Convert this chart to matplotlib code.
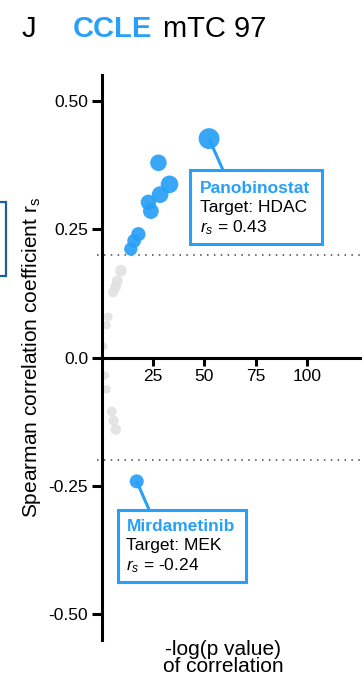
import numpy as np
import matplotlib
matplotlib.use('Agg')
import matplotlib.pyplot as plt
from matplotlib.patches import Rectangle

plt.rcParams['font.family'] = ['Liberation Sans', 'DejaVu Sans']
plt.rcParams['mathtext.fontset'] = 'custom'
plt.rcParams['mathtext.rm'] = 'Liberation Sans'
plt.rcParams['mathtext.it'] = 'Liberation Sans:italic'

# -log(p) and Spearman r_s for drugs passing the |r_s| > 0.2 cut-off
hit_x = [52.3, 27.6, 33.0, 28.4, 22.7, 23.9, 17.8, 15.7, 14.1, 17.0]
hit_y = [0.426, 0.379, 0.337, 0.317, 0.302, 0.285, 0.240, 0.227, 0.211, -0.241]

# drugs below the cut-off
other_x = [9.3, 7.5, 6.7, 5.5, 3.1, 2.3, 1.0, 1.6, 2.3, 4.8, 5.7, 6.7]
other_y = [0.169, 0.149, 0.138, 0.127, 0.079, 0.063, 0.022,
           -0.035, -0.062, -0.105, -0.123, -0.140]

threshold = 0.2
x_ticks = [25, 50, 75, 100]
y_ticks = [-0.50, -0.25, 0.0, 0.25, 0.50]
y_ticklabels = ['-0.50', '-0.25', '0.0', '0.25', '0.50']

# labelled drugs: name, target, index into hit arrays
labelled = [('Panobinostat', 'HDAC', 0), ('Mirdametinib', 'MEK', 9)]

blue = '#28a0f7'
grey = '#e0e0e0'


def marker_size(x):
    d_px = 5 + 2.2 * np.sqrt(np.asarray(x))
    return (d_px * 0.72) ** 2


fig = plt.figure(figsize=(3.64, 6.81), dpi=100)
ax = fig.add_axes([0.280, 0.060, 0.709, 0.830])

ax.scatter(other_x, other_y, s=marker_size(other_x), color=grey, alpha=0.85,
           linewidths=0, zorder=2)
ax.scatter(hit_x, hit_y, s=marker_size(hit_x), color=blue, alpha=0.92,
           linewidths=0, zorder=4)

for yy in (threshold, -threshold):
    ax.axhline(yy, xmin=-0.02, xmax=1, color='#444444', lw=1.1,
               linestyle=(0, (1, 3.5)), clip_on=False, zorder=1)

ax.set_xlim(0, 126)
ax.set_ylim(-0.55, 0.55)
ax.spines['top'].set_visible(False)
ax.spines['right'].set_visible(False)
ax.spines['bottom'].set_position(('data', 0))
ax.spines['left'].set_linewidth(2.2)
ax.spines['bottom'].set_linewidth(2.2)
ax.set_xticks(x_ticks)
ax.set_yticks(y_ticks)
ax.set_yticklabels(y_ticklabels)
ax.tick_params(axis='both', width=2.2, length=7, labelsize=12.5, pad=3,
               direction='out')
ax.tick_params(axis='x', length=6, pad=2)

ax.set_ylabel('Spearman correlation coefficient r$_\\mathregular{s}$',
              fontsize=15, labelpad=4)
fig.text(0.613, 0.008, '-log(p value)\nof correlation', ha='center',
         va='bottom', fontsize=15, linespacing=0.85)

# annotation boxes: (box x0, x1, y0, y1), connector end, text anchor
boxes = [((43.1, 107.4, 0.221, 0.364), (59.2, 0.364), (48.0, 0.329)),
         ((7.7, 70.4, -0.436, -0.296), (23.0, -0.296), (12.0, -0.329))]

for (name, target, i), (box, conn, txt) in zip(labelled, boxes):
    x0, x1, y0, y1 = box
    ax.plot([hit_x[i], conn[0]], [hit_y[i], conn[1]], color=blue, lw=2.2,
            zorder=3, solid_capstyle='butt')
    ax.add_patch(Rectangle((x0, y0), x1 - x0, y1 - y0, fill=True,
                           facecolor='white', edgecolor=blue, lw=2.2,
                           zorder=5))
    dy = 0.037
    ax.text(txt[0], txt[1], name, color=blue, fontweight='bold',
            fontsize=12.5, va='center', ha='left', zorder=6)
    ax.text(txt[0], txt[1] - dy, 'Target: ' + target, color='black',
            fontsize=12.5, va='center', ha='left', zorder=6)
    ax.text(txt[0], txt[1] - 2 * dy - 0.003,
            '$r_s$ = %.2f' % hit_y[i], color='black',
            fontsize=12.5, va='center', ha='left', zorder=6)

# title
fig.text(22 / 364, 1 - 37 / 681, 'J', fontsize=21, va='baseline')
fig.text(73 / 364, 1 - 37 / 681, 'CCLE', fontsize=21, fontweight='bold',
         color=blue, va='baseline')
fig.text(163 / 364, 1 - 37 / 681, 'mTC 97', fontsize=21, va='baseline')

# edge of neighbouring panel's label box
fig.add_artist(Rectangle((-10 / 364, 1 - 276 / 681), 16 / 364, 74 / 681,
                         transform=fig.transFigure, fill=False,
                         edgecolor='#1f5f94', lw=1.6))

fig.savefig('out.png', dpi=100)
